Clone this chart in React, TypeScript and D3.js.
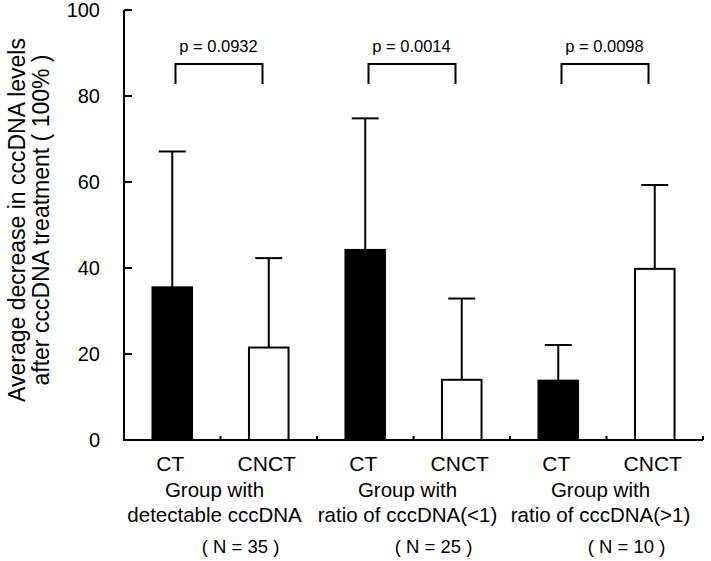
import * as d3 from 'd3';
import { useEffect, useRef } from 'react';

// values
const treatments = ['CT', 'CNCT'];
const groupLine1 = ['Group with', 'Group with', 'Group with'];
const groupLine2 = ['detectable cccDNA', 'ratio of cccDNA(<1)', 'ratio of cccDNA(>1)'];
const sampleSizes = [35, 25, 10];
const pValues = ['0.0932', '0.0014', '0.0098'];
const ctMeans = [35.5, 44.2, 13.8];
const ctSD = [31.6, 30.6, 8.3];
const cnctMeans = [21.5, 14.0, 39.8];
const cnctSD = [20.8, 18.9, 19.5];
const yTicks = [0, 20, 40, 60, 80, 100];

const FONT = "Arial, 'Liberation Sans', sans-serif";

export default function App() {
  const ref = useRef<SVGSVGElement | null>(null);

  useEffect(() => {
    if (!ref.current) return;
    document.body.style.margin = '0';

    const width = 711;
    const height = 561;
    const left = 124;
    const right = 703;
    const top = 10;
    const bottom = 440;

    const svg = d3.select(ref.current).attr('viewBox', `0 0 ${width} ${height}`);
    svg.selectAll('*').remove();
    const g = svg.append('g');

    /* ---------- bars data ---------- */
    const bars = sampleSizes.flatMap((_, i) => [
      { key: `g${i}-CT`, group: i, t: 0, mean: ctMeans[i], sd: ctSD[i] },
      { key: `g${i}-CNCT`, group: i, t: 1, mean: cnctMeans[i], sd: cnctSD[i] },
    ]);

    const pi = 0.59;
    const x = d3
      .scaleBand<string>()
      .domain(bars.map((b) => b.key))
      .range([left, right])
      .paddingInner(pi)
      .paddingOuter(pi / 2);
    const bw = x.bandwidth();
    const step = x.step();
    const cellStart = (k: string) => (x(k) as number) - (step * pi) / 2;

    const y = d3.scaleLinear().domain([0, 100]).range([bottom, top]);

    /* ---------- bars ---------- */
    g.selectAll('rect.bar')
      .data(bars)
      .enter()
      .append('rect')
      .attr('x', (d) => x(d.key) as number)
      .attr('y', (d) => y(d.mean))
      .attr('width', bw)
      .attr('height', (d) => y(0) - y(d.mean))
      .attr('fill', (d) => (d.t === 0 ? '#000' : '#fff'))
      .attr('stroke', '#000')
      .attr('stroke-width', 2);

    /* ---------- error bars (upper only) ---------- */
    const capW = 27;
    bars.forEach((d) => {
      const cx = (x(d.key) as number) + bw / 2;
      g.append('line')
        .attr('x1', cx).attr('x2', cx)
        .attr('y1', y(d.mean)).attr('y2', y(d.mean + d.sd))
        .attr('stroke', '#000').attr('stroke-width', 2);
      g.append('line')
        .attr('x1', cx - capW / 2).attr('x2', cx + capW / 2)
        .attr('y1', y(d.mean + d.sd)).attr('y2', y(d.mean + d.sd))
        .attr('stroke', '#000').attr('stroke-width', 2);
    });

    /* ---------- axes ---------- */
    g.append('path')
      .attr('d', `M${left},${top}V${bottom}H${right}`)
      .attr('fill', 'none')
      .attr('stroke', '#000')
      .attr('stroke-width', 2);

    yTicks.forEach((t) => {
      g.append('line')
        .attr('x1', left).attr('x2', left + 8)
        .attr('y1', y(t)).attr('y2', y(t))
        .attr('stroke', '#000').attr('stroke-width', 2);
      g.append('text')
        .attr('x', left - 24)
        .attr('y', y(t))
        .attr('dy', '0.36em')
        .attr('text-anchor', 'end')
        .attr('font-family', FONT)
        .attr('font-size', 20)
        .text(t);
    });

    // small upward ticks at the cell boundaries
    const bounds = bars.slice(1).map((b) => cellStart(b.key)).concat([right]);
    bounds.forEach((bx) => {
      g.append('line')
        .attr('x1', bx).attr('x2', bx)
        .attr('y1', bottom).attr('y2', bottom - 4)
        .attr('stroke', '#000').attr('stroke-width', 2);
    });

    /* ---------- x labels ---------- */
    bars.forEach((d) => {
      g.append('text')
        .attr('x', (x(d.key) as number) + bw / 2 - 2)
        .attr('y', 471)
        .attr('text-anchor', 'middle')
        .attr('font-family', FONT)
        .attr('font-size', 21)
        .text(treatments[d.t]);
    });

    sampleSizes.forEach((n, i) => {
      const gc = cellStart(`g${i}-CNCT`);
      g.append('text')
        .attr('x', gc - 6).attr('y', 497)
        .attr('text-anchor', 'middle')
        .attr('font-family', FONT).attr('font-size', 20.5)
        .text(groupLine1[i]);
      g.append('text')
        .attr('x', gc - 6).attr('y', 522)
        .attr('text-anchor', 'middle')
        .attr('font-family', FONT).attr('font-size', 20.5)
        .text(groupLine2[i]);
      g.append('text')
        .attr('x', gc + 20).attr('y', 553)
        .attr('text-anchor', 'middle')
        .attr('font-family', FONT).attr('font-size', 18.5)
        .attr('xml:space', 'preserve')
        .text(`( N = ${n} )`);

      /* significance bracket */
      g.append('path')
        .attr('d', `M${gc - 45},84V64H${gc + 42}V84`)
        .attr('fill', 'none')
        .attr('stroke', '#000')
        .attr('stroke-width', 2);
      g.append('text')
        .attr('x', gc - 2).attr('y', 52)
        .attr('text-anchor', 'middle')
        .attr('font-family', FONT).attr('font-size', 16.5)
        .text(`p = ${pValues[i]}`);
    });

    /* ---------- y title ---------- */
    const title = g
      .append('text')
      .attr('transform', `translate(0, ${(top + bottom) / 2 - 5}) rotate(-90)`)
      .attr('text-anchor', 'middle')
      .attr('font-family', FONT)
      .attr('font-size', 23)
      .attr('xml:space', 'preserve');
    title.append('tspan').attr('x', 0).attr('y', 25).text('Average decrease in cccDNA levels');
    title.append('tspan').attr('x', 0).attr('y', 49).text('after cccDNA treatment ( 100% )');
  }, []);

  return <svg ref={ref} width={711} height={561} style={{ display: 'block', background: '#fff' }} />;
}
